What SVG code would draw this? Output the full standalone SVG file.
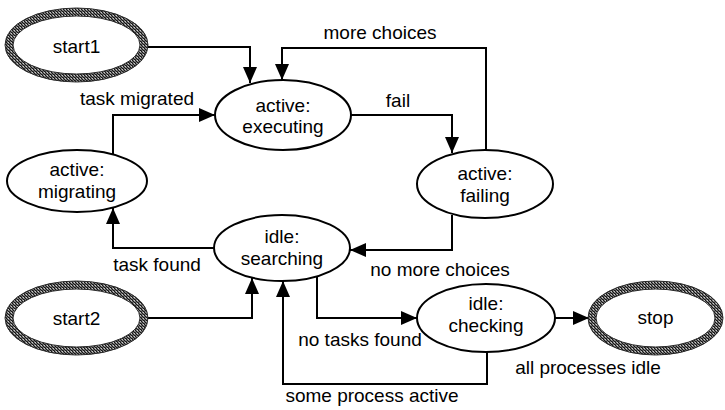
<svg xmlns="http://www.w3.org/2000/svg" width="725" height="410" viewBox="0 0 725 410">
  <style>
    .state { fill: #ffffff; stroke: #000000; stroke-width: 2; }
    .term { fill: #ffffff; stroke: url(#grain); stroke-width: 8; }
    .term-edge { fill: none; stroke: #2a2a2a; stroke-width: 1; }
    .label { font-family: "Liberation Sans", Arial, sans-serif; font-size: 19px; fill: #000000; text-anchor: middle; }
    .edge { fill: none; stroke: #000000; stroke-width: 2; marker-end: url(#arrow); }
  </style>
  <defs>
    <!-- fine dithered texture for the start/stop outlines -->
    <pattern id="grain" patternUnits="userSpaceOnUse" width="3" height="3">
      <rect width="3" height="3" fill="#7c7c7c"/>
      <rect x="0" y="0" width="1" height="1" fill="#151515"/>
      <rect x="1" y="1" width="1" height="1" fill="#151515"/>
      <rect x="2" y="2" width="1" height="1" fill="#151515"/>
      <rect x="2" y="0" width="1" height="1" fill="#c8c8c8"/>
      <rect x="0" y="2" width="1" height="1" fill="#3a3a3a"/>
    </pattern>
    <marker id="arrow" markerUnits="userSpaceOnUse" markerWidth="16" markerHeight="14" refX="16" refY="7" orient="auto">
      <path d="M0,0 L16,7 L0,14 z" fill="#000000"/>
    </marker>
  </defs>

  <rect width="725" height="410" fill="#ffffff"/>

  <g id="connectors">
    <!-- start1 -> active: executing -->
    <path class="edge" d="M148,47 H250 V83"/>
    <!-- active: failing -> active: executing (more choices) -->
    <path class="edge" d="M486,151 V48 H282 V80"/>
    <!-- active: executing -> active: failing (fail) -->
    <path class="edge" d="M351,115 H452 V153"/>
    <!-- active: failing -> idle: searching (no more choices) -->
    <path class="edge" d="M452,215 V250 H350"/>
    <!-- idle: searching -> active: migrating (task found) -->
    <path class="edge" d="M214,248 H113 V208"/>
    <!-- active: migrating -> active: executing (task migrated) -->
    <path class="edge" d="M113,155 V115 H215"/>
    <!-- start2 -> idle: searching -->
    <path class="edge" d="M148,318 H252 V278"/>
    <!-- idle: searching -> idle: checking (no tasks found) -->
    <path class="edge" d="M317,276 V318 H417"/>
    <!-- idle: checking -> idle: searching (some process active) -->
    <path class="edge" d="M487,352 V384 H283 V281"/>
    <!-- idle: checking -> stop -->
    <path class="edge" d="M555,318 H589"/>

    <text class="label" x="380" y="39">more choices</text>
    <text class="label" x="137" y="105">task migrated</text>
    <text class="label" x="398" y="107">fail</text>
    <text class="label" x="440" y="276">no more choices</text>
    <text class="label" x="157" y="271">task found</text>
    <text class="label" x="360" y="346">no tasks found</text>
    <text class="label" x="588" y="374">all processes idle</text>
    <text class="label" x="372" y="402">some process active</text>
  </g>

  <g id="start1">
    <ellipse class="term" cx="76.5" cy="45" rx="67.5" ry="33"/>
    <ellipse class="term-edge" cx="76.5" cy="45" rx="71.5" ry="37"/>
    <ellipse class="term-edge" cx="76.5" cy="45" rx="63.5" ry="29"/>
    <text class="label" x="76.5" y="53">start1</text>
  </g>

  <g id="start2">
    <ellipse class="term" cx="76.5" cy="318" rx="67.5" ry="33"/>
    <ellipse class="term-edge" cx="76.5" cy="318" rx="71.5" ry="37"/>
    <ellipse class="term-edge" cx="76.5" cy="318" rx="63.5" ry="29"/>
    <text class="label" x="76.5" y="325">start2</text>
  </g>

  <g id="stop">
    <ellipse class="term" cx="655.5" cy="318" rx="63.5" ry="33"/>
    <ellipse class="term-edge" cx="655.5" cy="318" rx="67.5" ry="37"/>
    <ellipse class="term-edge" cx="655.5" cy="318" rx="59.5" ry="29"/>
    <text class="label" x="655.5" y="324">stop</text>
  </g>

  <g id="active-executing">
    <ellipse class="state" cx="283" cy="115" rx="68" ry="35"/>
    <text class="label" x="283" y="112">active:</text>
    <text class="label" x="283" y="133">executing</text>
  </g>

  <g id="active-failing">
    <ellipse class="state" cx="485" cy="184" rx="68" ry="34"/>
    <text class="label" x="485" y="180">active:</text>
    <text class="label" x="485" y="202">failing</text>
  </g>

  <g id="active-migrating">
    <ellipse class="state" cx="77" cy="181" rx="70" ry="31"/>
    <text class="label" x="77" y="176">active:</text>
    <text class="label" x="77" y="198">migrating</text>
  </g>

  <g id="idle-searching">
    <ellipse class="state" cx="282" cy="248" rx="68" ry="33"/>
    <text class="label" x="282" y="243">idle:</text>
    <text class="label" x="282" y="265">searching</text>
  </g>

  <g id="idle-checking">
    <ellipse class="state" cx="486" cy="318" rx="69" ry="34"/>
    <text class="label" x="486" y="310">idle:</text>
    <text class="label" x="486" y="332">checking</text>
  </g>
</svg>
